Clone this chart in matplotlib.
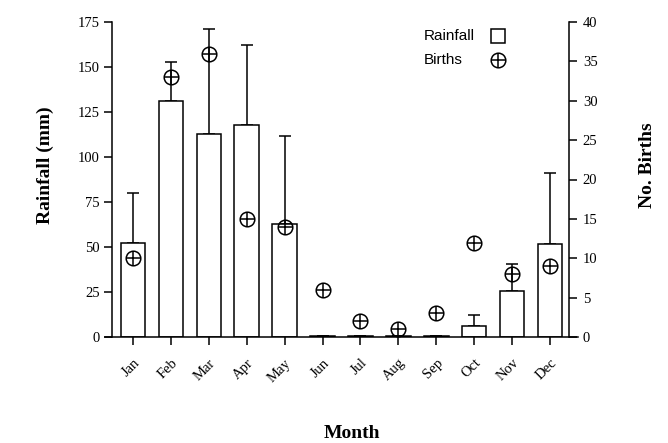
import matplotlib
matplotlib.use("Agg")
import matplotlib.pyplot as plt
from matplotlib.lines import Line2D
import numpy as np

months = ["Jan", "Feb", "Mar", "Apr", "May", "Jun", "Jul", "Aug", "Sep", "Oct", "Nov", "Dec"]
rainfall = [52.5, 131, 113, 118, 63, 0.5, 0.5, 0.5, 0.5, 6, 25.5, 51.5]
rainfall_sd = [27.5, 22, 58, 44.5, 48.5, 0, 0, 0, 0, 6.4, 15, 39.5]
births = [10, 33, 36, 15, 14, 6, 2, 1, 3, 12, 8, 9]
rain_ticks = [0, 25, 50, 75, 100, 125, 150, 175]
birth_ticks = [0, 5, 10, 15, 20, 25, 30, 35, 40]

serif = "Liberation Serif"
sans = "Liberation Sans"
plt.rcParams["font.family"] = serif
plt.rcParams["font.size"] = 10.5
lw = 1.1

fig = plt.figure(figsize=(6.68, 4.43), dpi=100)
ax = fig.add_axes([105 / 668, 1 - 337 / 443, 473 / 668, (337 - 22) / 443])
x = np.arange(len(months))

ax.bar(x, rainfall, width=0.65, color="white", edgecolor="black", linewidth=lw, zorder=2)
ax.errorbar(x, rainfall, yerr=[np.zeros(len(x)), rainfall_sd], fmt="none",
            ecolor="black", elinewidth=lw, capsize=4, capthick=lw, zorder=1)

ax.set_xlim(-0.74, 11.74)
ax.set_ylim(0, 175)
ax.set_yticks(rain_ticks)
ax.set_xticks(x)
ax.set_xticklabels(months, rotation=45, ha="right", va="top", rotation_mode="anchor",
                   fontsize=10.5)
ax.spines["top"].set_visible(False)
ax.spines["right"].set_visible(False)
ax.spines["left"].set_position(("data", -0.55))
for s in ax.spines.values():
    s.set_linewidth(lw)
ax.tick_params(axis="both", direction="out", length=6, width=lw, pad=3)
ax.tick_params(axis="x", pad=8)

ax2 = ax.twinx()
ax2.set_ylim(0, 40)
ax2.set_yticks(birth_ticks)
for side in ["left", "top", "bottom"]:
    ax2.spines[side].set_visible(False)
ax2.spines["right"].set_position(("data", 11.5))
ax2.spines["right"].set_linewidth(lw)
ax2.tick_params(axis="y", direction="out", length=6, width=lw, pad=4)

ms = 10.5
ax2.plot(x, births, linestyle="none", marker="o", markersize=ms, markerfacecolor="none",
         markeredgecolor="black", markeredgewidth=lw, zorder=3)
ax2.plot(x, births, linestyle="none", marker="+", markersize=ms,
         markeredgecolor="black", markeredgewidth=lw, zorder=3)

# legend (manual layout: left-aligned labels, symbols on the right)
legend_labels = ["Rainfall", "Births"]
leg_x_text, leg_x_sym = 424 / 668, 498 / 668
leg_y = [1 - 36 / 443, 1 - 60 / 443]
for lab, yy in zip(legend_labels, leg_y):
    fig.text(leg_x_text, yy, lab, ha="left", va="center", fontfamily=sans, fontsize=11)
fig.add_artist(Line2D([leg_x_sym], [leg_y[0]], transform=fig.transFigure, linestyle="none",
                      marker="s", markersize=10, markerfacecolor="white",
                      markeredgecolor="black", markeredgewidth=lw))
for mk, fc in (("o", "none"), ("+", "black")):
    fig.add_artist(Line2D([leg_x_sym], [leg_y[1]], transform=fig.transFigure, linestyle="none",
                          marker=mk, markersize=ms, markerfacecolor=fc,
                          markeredgecolor="black", markeredgewidth=lw))

fig.text(45 / 668, 1 - 165 / 443, "Rainfall (mm)", rotation=90, ha="center", va="center",
         fontweight="bold", fontsize=14)
fig.text(647 / 668, 1 - 165 / 443, "No. Births", rotation=90, ha="center", va="center",
         fontweight="bold", fontsize=14)
fig.text(352 / 668, 1 - 433 / 443, "Month", ha="center", va="center",
         fontweight="bold", fontsize=14)

fig.savefig("out.png", dpi=100)
